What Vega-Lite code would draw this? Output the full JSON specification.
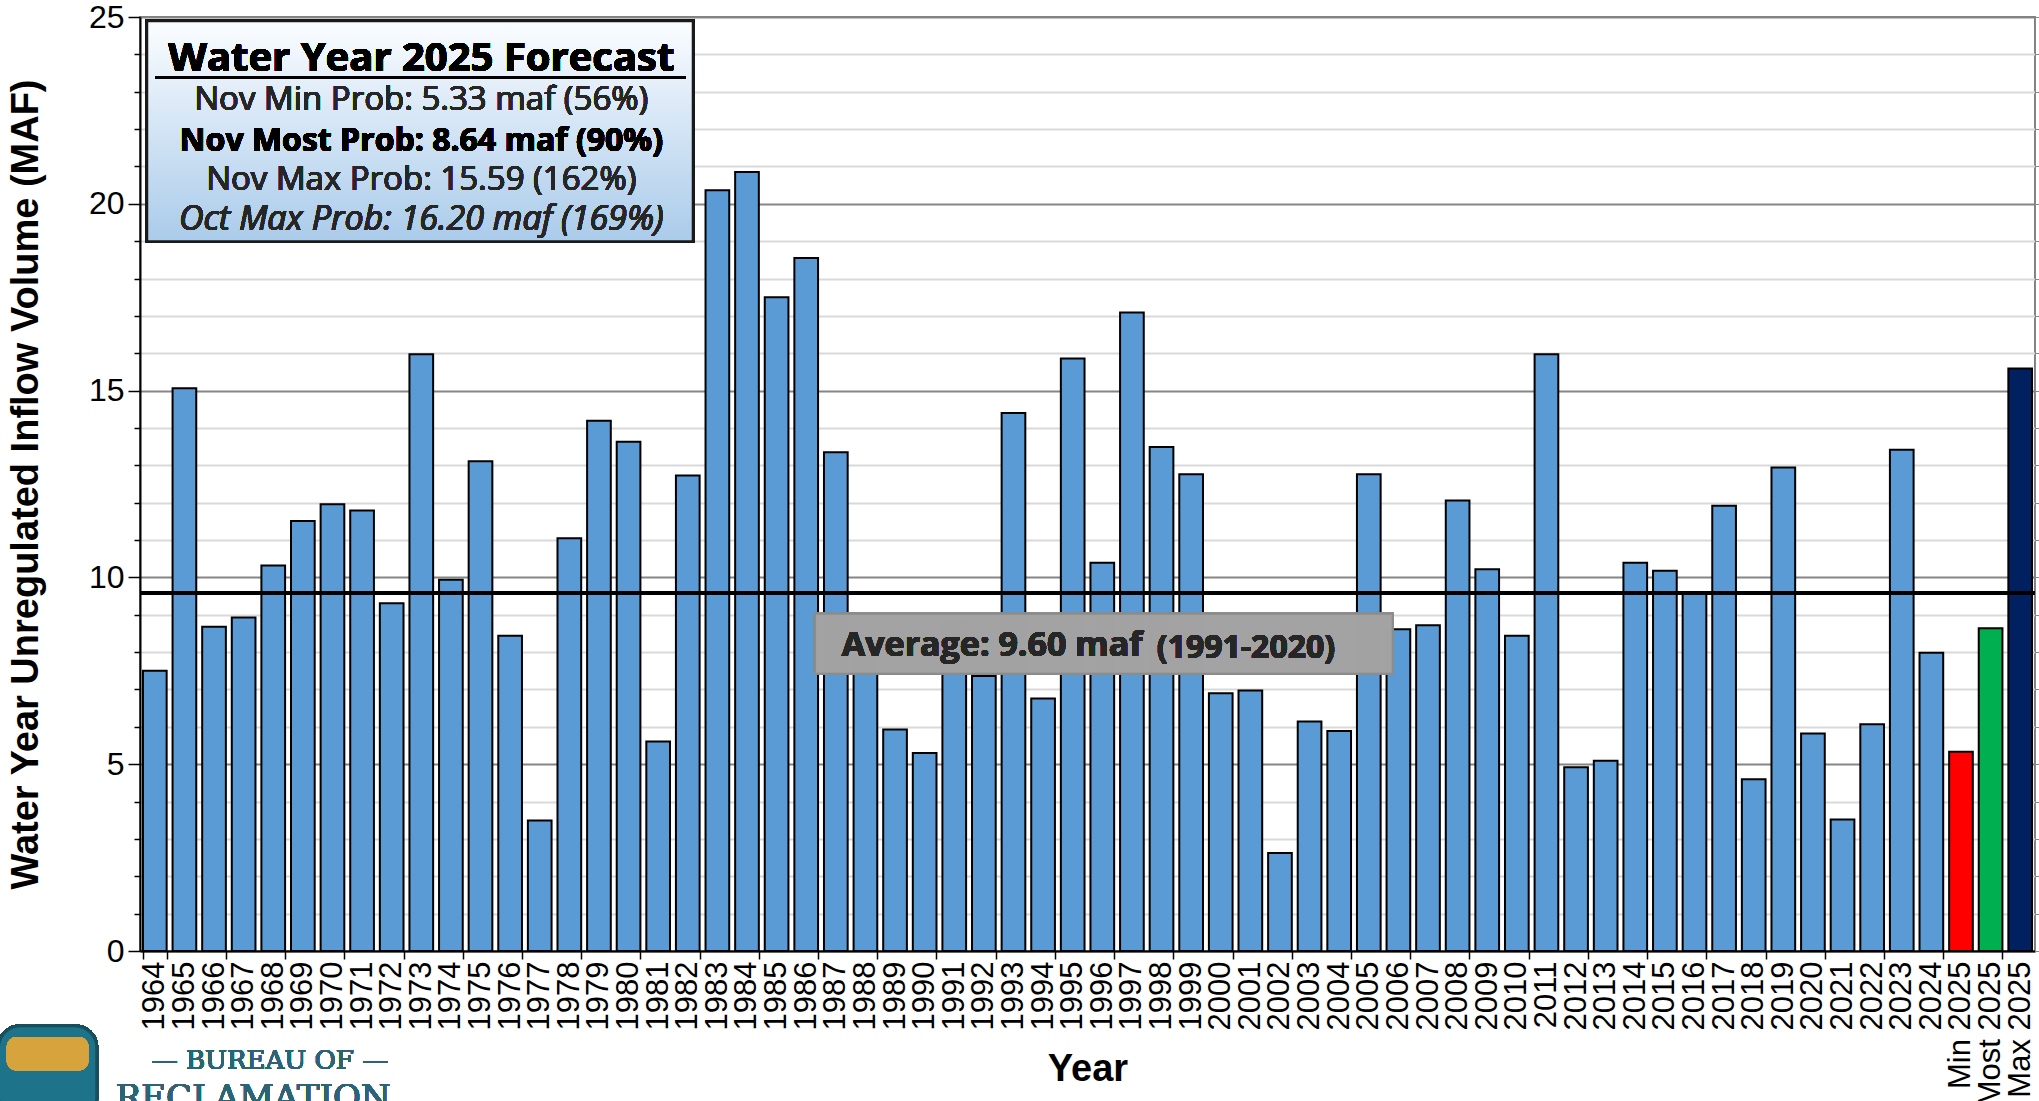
{
  "$schema": "https://vega.github.io/schema/vega-lite/v6.json",
  "width": 1895,
  "height": 934,
  "autosize": {"type": "none"},
  "padding": {"left": 140, "top": 17, "right": 4, "bottom": 150},
  "background": "white",
  "config": {"view": {"stroke": "#7f7f7f", "strokeWidth": 2}},
  "resolve": {"axis": {"y": "independent"}},
  "data": {"values": [
    {"year": "1964", "maf": 7.50, "series": "Historical"},
    {"year": "1965", "maf": 15.06, "series": "Historical"},
    {"year": "1966", "maf": 8.68, "series": "Historical"},
    {"year": "1967", "maf": 8.93, "series": "Historical"},
    {"year": "1968", "maf": 10.32, "series": "Historical"},
    {"year": "1969", "maf": 11.51, "series": "Historical"},
    {"year": "1970", "maf": 11.96, "series": "Historical"},
    {"year": "1971", "maf": 11.79, "series": "Historical"},
    {"year": "1972", "maf": 9.31, "series": "Historical"},
    {"year": "1973", "maf": 15.97, "series": "Historical"},
    {"year": "1974", "maf": 9.94, "series": "Historical"},
    {"year": "1975", "maf": 13.11, "series": "Historical"},
    {"year": "1976", "maf": 8.44, "series": "Historical"},
    {"year": "1977", "maf": 3.49, "series": "Historical"},
    {"year": "1978", "maf": 11.05, "series": "Historical"},
    {"year": "1979", "maf": 14.19, "series": "Historical"},
    {"year": "1980", "maf": 13.63, "series": "Historical"},
    {"year": "1981", "maf": 5.61, "series": "Historical"},
    {"year": "1982", "maf": 12.73, "series": "Historical"},
    {"year": "1983", "maf": 20.36, "series": "Historical"},
    {"year": "1984", "maf": 20.85, "series": "Historical"},
    {"year": "1985", "maf": 17.50, "series": "Historical"},
    {"year": "1986", "maf": 18.55, "series": "Historical"},
    {"year": "1987", "maf": 13.35, "series": "Historical"},
    {"year": "1988", "maf": 7.90, "series": "Historical"},
    {"year": "1989", "maf": 5.93, "series": "Historical"},
    {"year": "1990", "maf": 5.30, "series": "Historical"},
    {"year": "1991", "maf": 8.82, "series": "Historical"},
    {"year": "1992", "maf": 7.36, "series": "Historical"},
    {"year": "1993", "maf": 14.40, "series": "Historical"},
    {"year": "1994", "maf": 6.76, "series": "Historical"},
    {"year": "1995", "maf": 15.86, "series": "Historical"},
    {"year": "1996", "maf": 10.39, "series": "Historical"},
    {"year": "1997", "maf": 17.09, "series": "Historical"},
    {"year": "1998", "maf": 13.49, "series": "Historical"},
    {"year": "1999", "maf": 12.76, "series": "Historical"},
    {"year": "2000", "maf": 6.90, "series": "Historical"},
    {"year": "2001", "maf": 6.97, "series": "Historical"},
    {"year": "2002", "maf": 2.62, "series": "Historical"},
    {"year": "2003", "maf": 6.14, "series": "Historical"},
    {"year": "2004", "maf": 5.89, "series": "Historical"},
    {"year": "2005", "maf": 12.76, "series": "Historical"},
    {"year": "2006", "maf": 8.61, "series": "Historical"},
    {"year": "2007", "maf": 8.72, "series": "Historical"},
    {"year": "2008", "maf": 12.06, "series": "Historical"},
    {"year": "2009", "maf": 10.22, "series": "Historical"},
    {"year": "2010", "maf": 8.44, "series": "Historical"},
    {"year": "2011", "maf": 15.97, "series": "Historical"},
    {"year": "2012", "maf": 4.92, "series": "Historical"},
    {"year": "2013", "maf": 5.09, "series": "Historical"},
    {"year": "2014", "maf": 10.39, "series": "Historical"},
    {"year": "2015", "maf": 10.18, "series": "Historical"},
    {"year": "2016", "maf": 9.59, "series": "Historical"},
    {"year": "2017", "maf": 11.92, "series": "Historical"},
    {"year": "2018", "maf": 4.60, "series": "Historical"},
    {"year": "2019", "maf": 12.94, "series": "Historical"},
    {"year": "2020", "maf": 5.82, "series": "Historical"},
    {"year": "2021", "maf": 3.52, "series": "Historical"},
    {"year": "2022", "maf": 6.07, "series": "Historical"},
    {"year": "2023", "maf": 13.42, "series": "Historical"},
    {"year": "2024", "maf": 7.98, "series": "Historical"},
    {"year": "Min 2025", "maf": 5.33, "series": "Min"},
    {"year": "Most 2025", "maf": 8.64, "series": "Most"},
    {"year": "Max 2025", "maf": 15.59, "series": "Max"}
  ]},
  "layer": [
    {
      "mark": {"type": "bar", "stroke": "#000000", "strokeWidth": 2},
      "encoding": {
        "x": {
          "field": "year", "type": "ordinal", "sort": null,
          "scale": {"paddingInner": 0.2, "paddingOuter": 0.1},
          "axis": {
            "title": "Year",
            "titleFont": "Liberation Sans", "titleFontSize": 38, "titleFontWeight": "bold", "titleColor": "#000000",
            "titleY": 118, "titleBaseline": "middle",
            "labelAngle": -90, "labelAlign": "right", "labelBaseline": "middle",
            "labelFont": "Liberation Sans", "labelFontSize": 31, "labelColor": "#000000",
            "labelPadding": 2, "labelOverlap": false,
            "domainColor": "#000000", "domainWidth": 2,
            "tickBand": "extent", "tickSize": 8, "tickColor": "#000000", "tickWidth": 1.5,
            "tickOpacity": {"condition": {"test": "datum.value === 'Most 2025' || toNumber(datum.value) % 2 === 0", "value": 1}, "value": 0},
            "grid": false
          }
        },
        "y": {
          "field": "maf", "type": "quantitative",
          "scale": {"domain": [0, 25], "nice": false},
          "axis": {
            "orient": "left",
            "title": "Water Year Unregulated Inflow Volume (MAF)",
            "titleFont": "Liberation Sans", "titleFontSize": 38, "titleFontWeight": "bold", "titleColor": "#000000",
            "titleX": -114, "titleBaseline": "middle",
            "values": [0, 5, 10, 15, 20, 25],
            "labelOverlap": false, "labelBound": false, "labelFlush": false,
            "labelFont": "Liberation Sans", "labelFontSize": 32, "labelColor": "#000000", "labelPadding": 4,
            "domainColor": "#000000", "domainWidth": 2,
            "tickColor": "#000000", "tickSize": 12, "tickWidth": 1.5,
            "grid": true, "gridColor": "#858585", "gridWidth": 2
          }
        },
        "color": {
          "field": "series", "type": "nominal",
          "scale": {"domain": ["Historical", "Min", "Most", "Max"], "range": ["#5b9bd5", "#ff0000", "#00b050", "#002060"]},
          "legend": null
        }
      }
    },
    {
      "mark": {"type": "rule", "color": "#000000", "strokeWidth": 3},
      "encoding": {
        "y": {
          "datum": 9.58, "type": "quantitative",
          "axis": {
            "orient": "left", "title": null, "labels": false, "domain": false,
            "values": [1,2,3,4,6,7,8,9,11,12,13,14,16,17,18,19,21,22,23,24],
            "tickColor": "#000000", "tickSize": 6, "tickWidth": 1.5,
            "grid": true, "gridColor": "#d9d9d9", "gridWidth": 2
          }
        }
      }
    },
    {
      "mark": {"type": "rect", "fill": "#a3a3a3", "fillOpacity": 0.7, "stroke": "#8c8c8c", "strokeWidth": 2},
      "encoding": {
        "x": {"datum": "1986", "bandPosition": 0.87},
        "x2": {"datum": "2006", "bandPosition": 0.26},
        "y": {"datum": 9.03},
        "y2": {"datum": 7.42}
      }
    },
    {
      "mark": {"type": "text", "text": "Average: 9.60 maf", "align": "left", "baseline": "middle", "font": "Open Sans", "fontSize": 34, "fontWeight": "bold", "color": "#262626"},
      "encoding": {"x": {"datum": "1987", "bandPosition": 0.75}, "y": {"datum": 8.17}}
    },
    {
      "mark": {"type": "text", "text": "(1991-2020)", "align": "left", "baseline": "middle", "font": "Open Sans", "fontSize": 32, "fontWeight": "bold", "color": "#262626"},
      "encoding": {"x": {"datum": "1998", "bandPosition": 0.3}, "y": {"datum": 8.12}}
    },
    {
      "mark": {
        "type": "rect",
        "fill": {"gradient": "linear", "x1": 0, "y1": 0, "x2": 0, "y2": 1, "stops": [{"offset": 0, "color": "#fbfdff"}, {"offset": 1, "color": "#aacbea"}]},
        "stroke": "#1a1a1a", "strokeWidth": 2.5
      },
      "encoding": {
        "x": {"datum": "1964", "bandPosition": 0.17},
        "x2": {"datum": "1982", "bandPosition": 0.72},
        "y": {"datum": 24.89},
        "y2": {"datum": 18.99}
      }
    },
    {
      "mark": {"type": "text", "text": "Water Year 2025 Forecast", "align": "center", "baseline": "middle", "font": "Open Sans", "fontSize": 40, "fontWeight": "bold", "color": "#000000"},
      "encoding": {"x": {"datum": "1973"}, "y": {"datum": 23.88}}
    },
    {
      "mark": {"type": "rule", "color": "#000000", "strokeWidth": 2.5},
      "encoding": {
        "x": {"datum": "1964", "bandPosition": 0.54},
        "x2": {"datum": "1982", "bandPosition": 0.41},
        "y": {"datum": 23.39}
      }
    },
    {
      "mark": {"type": "text", "text": "Nov Min Prob: 5.33 maf (56%)", "align": "center", "baseline": "middle", "font": "Open Sans", "fontSize": 33, "color": "#262626"},
      "encoding": {"x": {"datum": "1973"}, "y": {"datum": 22.79}}
    },
    {
      "mark": {"type": "text", "text": "Nov Most Prob: 8.64 maf (90%)", "align": "center", "baseline": "middle", "font": "Open Sans", "fontSize": 32, "fontWeight": "bold", "color": "#000000"},
      "encoding": {"x": {"datum": "1973"}, "y": {"datum": 21.69}}
    },
    {
      "mark": {"type": "text", "text": "Nov Max Prob: 15.59 (162%)", "align": "center", "baseline": "middle", "font": "Open Sans", "fontSize": 33, "color": "#262626"},
      "encoding": {"x": {"datum": "1973"}, "y": {"datum": 20.64}}
    },
    {
      "mark": {"type": "text", "text": "Oct Max Prob: 16.20 maf (169%)", "align": "center", "baseline": "middle", "font": "Open Sans", "fontSize": 34, "fontStyle": "italic", "color": "#262626"},
      "encoding": {"x": {"datum": "1973"}, "y": {"datum": 19.57}}
    },
    {
      "mark": {"type": "rect", "fill": "#1d7389", "stroke": "#174f5e", "strokeWidth": 3, "cornerRadius": 22},
      "encoding": {
        "x": {"datum": "1964", "bandPosition": -6.1},
        "x2": {"datum": "1964", "bandPosition": -1.95},
        "y": {"datum": -2.0},
        "y2": {"datum": -4.5}
      }
    },
    {
      "mark": {"type": "rect", "fill": "#d6a33c", "cornerRadius": 10},
      "encoding": {
        "x": {"datum": "1964", "bandPosition": -5.75},
        "x2": {"datum": "1964", "bandPosition": -2.3},
        "y": {"datum": -2.3},
        "y2": {"datum": -3.2}
      }
    },
    {
      "mark": {"type": "text", "text": "— BUREAU OF —", "align": "center", "baseline": "middle", "font": "DejaVu Serif", "fontSize": 26, "color": "#2b6575"},
      "encoding": {"x": {"datum": "1968", "bandPosition": 0.36}, "y": {"datum": -2.95}}
    },
    {
      "mark": {"type": "text", "text": "RECLAMATION", "align": "center", "baseline": "top", "font": "DejaVu Serif", "fontSize": 34, "color": "#2b6575"},
      "encoding": {"x": {"datum": "1967", "bandPosition": 0.9}, "y": {"datum": -3.5}}
    }
  ]
}
